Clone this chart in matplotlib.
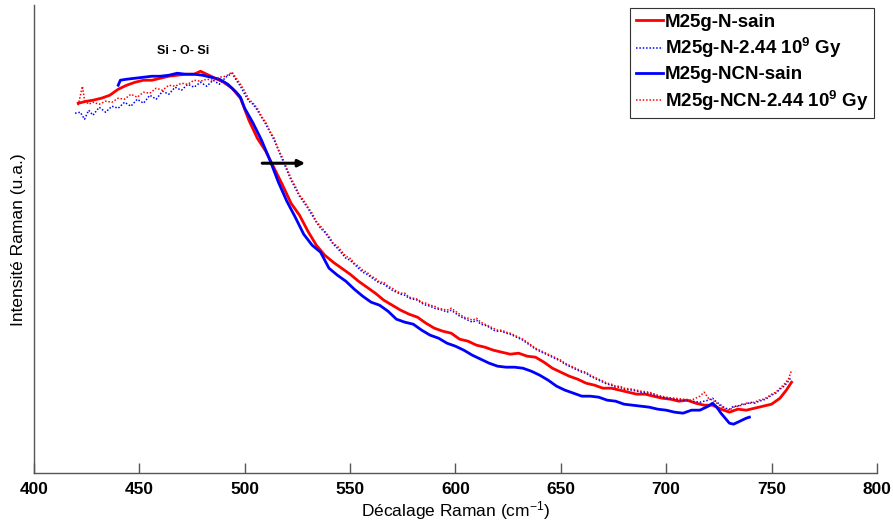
"""Raman spectra, Si-O-Si band, sain vs irradie."""

import matplotlib

matplotlib.use("Agg")
import matplotlib.pyplot as plt

plt.rcParams["font.family"] = ["Liberation Sans", "DejaVu Sans"]
plt.rcParams["mathtext.default"] = "regular"

# M25g-N-sain (red, solid)
n_sain_x = [421, 425, 428, 432, 436, 440, 444, 448, 452, 456, 460, 464, 468, 472,
            476, 479, 482, 486, 490, 494, 498, 502, 506, 510, 514, 518, 522, 526,
            530, 534, 538, 542, 546, 550, 554, 558, 562, 566, 570, 574, 578, 582,
            586, 590, 594, 598, 602, 606, 610, 614, 618, 622, 626, 630, 634, 638,
            642, 646, 650, 654, 658, 662, 666, 670, 674, 678, 682, 686, 690, 694,
            698, 702, 706, 710, 714, 718, 722, 726, 730, 734, 738, 742, 746, 750,
            754, 757, 759.5]
n_sain_y = [370, 372, 373, 375, 378, 384, 388, 391, 393, 393, 395, 397, 398, 399,
            399, 402, 399, 395, 391, 385, 375, 353, 335, 322, 305, 288, 270, 258,
            242, 228, 218, 211, 205, 199, 192, 186, 180, 173, 168, 163, 159, 156,
            150, 145, 142, 140, 134, 132, 128, 126, 123, 121, 119, 120, 117, 116,
            111, 105, 101, 97, 94, 90, 88, 85, 85, 83, 81, 79, 79, 77,
            75, 74, 72, 73, 70, 68, 68, 64, 61, 64, 63, 65, 67, 69,
            75, 83, 91]

# M25g-NCN-sain (blue, solid)
ncn_sain_x = [440, 441, 444, 448, 452, 456, 460, 464, 468, 472, 476, 480, 484, 488,
              492, 496, 498, 500, 504, 508, 512, 516, 520, 524, 528, 532, 536, 540,
              544, 548, 552, 556, 560, 564, 568, 572, 576, 580, 584, 588, 592, 596,
              600, 604, 608, 612, 616, 620, 624, 628, 632, 636, 640, 644, 648, 652,
              656, 660, 664, 668, 672, 676, 680, 684, 688, 692, 696, 700, 704, 708,
              712, 716, 720, 722, 724, 726, 728, 730, 732, 734, 736, 738, 739.5]
ncn_sain_y = [388, 393, 394, 395, 396, 397, 397, 398, 400, 399, 399, 398, 396, 394,
              389, 381, 376, 365, 350, 333, 313, 291, 272, 256, 239, 228, 221, 205,
              198, 192, 184, 177, 171, 168, 162, 154, 151, 149, 143, 138, 135, 130,
              127, 123, 118, 114, 110, 107, 106, 106, 105, 102, 98, 93, 87, 83,
              80, 77, 77, 76, 73, 72, 69, 68, 67, 66, 64, 63, 61, 60,
              63, 63, 67, 70, 66, 60, 55, 50, 49, 51, 53, 55, 56]

# M25g-N-2.44 10^9 Gy (blue, dotted)
n_irr_x = [419.5, 422, 424, 426, 428, 431, 434, 437, 440, 443, 446, 449, 452, 455,
           458, 461, 464, 467, 470, 473, 476, 479, 482, 485, 488, 491, 494, 496,
           498, 500, 502, 504, 506, 508, 510, 512, 514, 516, 518, 520, 522, 524,
           526, 528, 530, 532, 534, 536, 538, 540, 542, 544, 546, 548, 550, 552,
           554, 556, 558, 560, 562, 564, 566, 568, 570, 572, 574, 576, 578, 580,
           582, 584, 586, 588, 590, 592, 594, 596, 598, 600, 602, 604, 606, 608,
           610, 612, 614, 616, 618, 620, 622, 624, 626, 628, 630, 632, 634, 636,
           638, 640, 642, 644, 646, 648, 650, 652, 654, 656, 658, 660, 662, 664,
           666, 668, 670, 672, 674, 676, 678, 680, 684, 688, 692, 696, 700, 704,
           708, 712, 716, 720, 722, 724, 726, 728, 730, 732, 734, 736, 738, 740,
           742, 744, 746, 748, 750, 752, 754, 756, 758, 759]
n_irr_y = [360, 361, 354, 363, 358, 366, 361, 367, 365, 371, 367, 374, 370, 378,
           374, 382, 379, 386, 383, 389, 386, 391, 387, 393, 389, 396, 400, 393,
           387, 379, 372, 369, 363, 356, 349, 341, 333, 323, 313, 303, 293, 285,
           277, 271, 265, 258, 251, 245, 241, 235, 229, 225, 220, 215, 213, 209,
           205, 201, 199, 196, 193, 190, 189, 186, 183, 181, 179, 178, 175, 174,
           173, 170, 168, 167, 165, 164, 163, 161, 163, 160, 157, 155, 153, 151,
           153, 149, 148, 146, 143, 142, 142, 140, 139, 137, 135, 133, 130, 127,
           124, 122, 120, 118, 116, 114, 112, 109, 107, 105, 103, 101, 100, 97,
           95, 93, 91, 89, 88, 86, 86, 84, 83, 81, 80, 77, 75, 74,
           73, 72, 71, 73, 75, 71, 68, 65, 64, 67, 67, 69, 69, 71,
           70, 72, 73, 75, 78, 80, 84, 87, 92, 95]

# M25g-NCN-2.44 10^9 Gy (red, dotted)
ncn_irr_x = [421, 423, 424, 426, 428, 431, 434, 437, 440, 443, 446, 449, 452, 455,
             458, 461, 464, 467, 470, 473, 476, 479, 482, 485, 488, 491, 494, 496,
             498, 500, 502, 504, 506, 508, 510, 512, 514, 516, 518, 520, 522, 524,
             526, 528, 530, 532, 534, 536, 538, 540, 542, 544, 546, 548, 550, 552,
             554, 556, 558, 560, 562, 564, 566, 568, 570, 572, 574, 576, 578, 580,
             582, 584, 586, 588, 590, 592, 594, 596, 598, 600, 602, 604, 606, 608,
             610, 612, 614, 616, 618, 620, 622, 624, 626, 628, 630, 632, 634, 636,
             638, 640, 642, 644, 646, 648, 650, 652, 654, 656, 658, 660, 662, 664,
             666, 668, 670, 672, 674, 676, 678, 680, 684, 688, 692, 696, 700, 704,
             708, 712, 716, 718, 720, 722, 724, 726, 728, 730, 732, 734, 736, 738,
             740, 742, 744, 746, 748, 750, 752, 754, 756, 758, 759.5]
ncn_irr_y = [368, 387, 373, 369, 371, 369, 372, 371, 375, 374, 379, 376, 381, 380,
             385, 383, 388, 387, 390, 389, 393, 392, 394, 393, 396, 397, 401, 395,
             389, 382, 374, 370, 365, 357, 351, 342, 335, 324, 315, 305, 295, 287,
             278, 273, 266, 260, 252, 247, 242, 237, 230, 227, 222, 217, 215, 210,
             207, 203, 201, 197, 195, 191, 191, 187, 185, 182, 180, 180, 176, 175,
             174, 171, 170, 168, 167, 165, 164, 163, 165, 162, 159, 156, 155, 153,
             155, 151, 149, 147, 145, 143, 143, 141, 140, 138, 136, 134, 131, 128,
             125, 123, 121, 119, 117, 115, 113, 110, 108, 106, 104, 102, 101, 98,
             96, 94, 92, 90, 89, 87, 87, 85, 84, 82, 81, 78, 76, 75,
             74, 73, 77, 81, 75, 73, 70, 67, 64, 63, 66, 67, 68, 70,
             70, 71, 73, 74, 76, 79, 81, 85, 89, 94, 103]

labels = ["M25g-N-sain", "M25g-N-2.44 10$^{9}$ Gy",
          "M25g-NCN-sain", "M25g-NCN-2.44 10$^{9}$ Gy"]

fig = plt.figure(figsize=(8.93, 5.24), dpi=100)
ax = fig.add_axes([0.038, 0.097, 0.944, 0.893])

dot = (0, (1, 1.2))
ax.plot(n_sain_x, n_sain_y, color="#ff0000", lw=2.0, label=labels[0])
ax.plot(n_irr_x, n_irr_y, color="#0000ff", lw=1.1, ls=dot, label=labels[1])
ax.plot(ncn_sain_x, ncn_sain_y, color="#0000ff", lw=2.0, label=labels[2])
ax.plot(ncn_irr_x, ncn_irr_y, color="#ff0000", lw=1.1, ls=dot, label=labels[3])

# band label and shift arrow
ax.text(471, 422, "Si - O- Si", ha="center", va="center", fontsize=9,
        fontweight="bold")
ax.annotate("", xy=(530, 310), xytext=(507, 310),
            arrowprops=dict(arrowstyle="-|>", color="black", lw=2.2,
                            mutation_scale=10))

ax.set_xlim(400, 800)
ax.set_ylim(0, 468)
ax.set_xticks(range(400, 801, 50))
ax.set_yticks([])
ax.tick_params(axis="x", direction="in", length=7, width=1, color="#555555",
               labelsize=12.5, pad=6)
for lab in ax.get_xticklabels():
    lab.set_fontweight("bold")

for side in ("top", "right"):
    ax.spines[side].set_visible(False)
for side in ("left", "bottom"):
    ax.spines[side].set_color("#555555")
    ax.spines[side].set_linewidth(1.0)

ax.set_xlabel("Décalage Raman (cm$^{-1}$)", fontsize=12.5, labelpad=2)
ax.set_ylabel("Intensité Raman (u.a.)", fontsize=12.5, labelpad=6)

leg = ax.legend(loc="upper right", bbox_to_anchor=(0.979, 0.985),
                bbox_transform=fig.transFigure, fancybox=False, framealpha=1,
                edgecolor="#333333", borderpad=0.3, labelspacing=0.3,
                handlelength=1.45, handletextpad=0.1, borderaxespad=0,
                prop={"size": 13.5, "weight": "bold"})
leg.get_frame().set_linewidth(0.8)

fig.savefig("out.png", dpi=100)
